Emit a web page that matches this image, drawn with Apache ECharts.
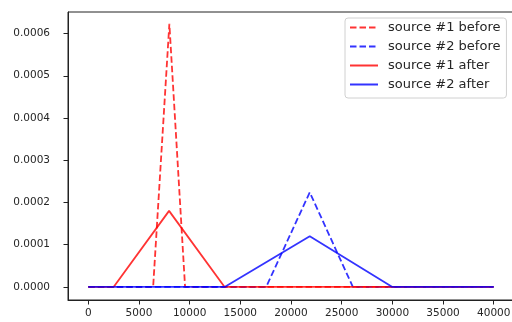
<!DOCTYPE html>
<html>
<head>
<meta charset="utf-8">
<script src="https://cdn.jsdelivr.net/npm/echarts@6/dist/echarts.min.js"></script>
<style>
  html, body { margin: 0; padding: 0; background: #fff; }
  #chart { width: 512px; height: 322px; }
</style>
</head>
<body>
<div id="chart"></div>
<script>
// triangle outlines: x positions and densities
const src1BeforeX = [0, 6400, 8000, 9550, 40000];
const src1BeforeY = [0, 0, 0.000623, 0, 0];
const src2BeforeX = [0, 17550, 21850, 26100, 40000];
const src2BeforeY = [0, 0, 0.000224, 0, 0];
const src1AfterX = [0, 2500, 7970, 13450, 40000];
const src1AfterY = [0, 0, 0.00018, 0, 0];
const src2AfterX = [0, 13450, 21850, 30000, 40000];
const src2AfterY = [0, 0, 0.00012, 0, 0];

const xTicks = [0, 5000, 10000, 15000, 20000, 25000, 30000, 35000, 40000];
const yTicks = [0, 0.0001, 0.0002, 0.0003, 0.0004, 0.0005, 0.0006];

const RED = "rgba(255,0,0,0.8)";
const BLUE = "rgba(0,0,255,0.8)";

function pairs(xs, ys) {
  return xs.map((x, i) => [x, ys[i]]);
}

function line(name, xs, ys, color, dashed) {
  return {
    name: name,
    type: "line",
    symbol: "none",
    silent: true,
    animation: false,
    data: pairs(xs, ys),
    lineStyle: {
      color: color,
      width: 1.8,
      type: dashed ? [6.5, 3] : "solid",
    },
    itemStyle: { color: color },
  };
}

const chart = echarts.init(document.getElementById("chart"));
const font = { fontFamily: "DejaVu Sans", fontSize: 10.5, color: "#262626" };
const spine = { color: "#222", width: 1 };

chart.setOption({
  animation: false,
  grid: {
    left: 68,
    right: -2,
    top: 12,
    bottom: 22,
    outerBoundsMode: "none",
    show: true,
    borderColor: "#222",
    borderWidth: 1,
    backgroundColor: "transparent",
  },
  legend: {
    orient: "vertical",
    left: 345,
    top: 18,
    padding: [3, 6, 7, 4],
    itemWidth: 28,
    itemHeight: 14,
    itemGap: 6,
    itemStyle: { opacity: 0 },
    backgroundColor: "#fff",
    borderColor: "#d0d0d0",
    borderWidth: 1,
    borderRadius: 3,
    textStyle: {
      fontFamily: "DejaVu Sans",
      fontSize: 13,
      color: "#262626",
      padding: [0, 0, 0, 5],
    },
    data: ["source #1 before", "source #2 before", "source #1 after", "source #2 after"],
  },
  xAxis: {
    type: "value",
    min: -2000,
    max: 42000,
    splitLine: { show: false },
    axisLine: { show: true, onZero: false, lineStyle: spine },
    axisTick: {
      show: true,
      length: 4.5,
      customValues: xTicks,
      lineStyle: spine,
    },
    axisLabel: {
      ...font,
      margin: 8,
      customValues: xTicks,
      formatter: (v) => String(v),
    },
  },
  yAxis: {
    type: "value",
    min: -0.000031,
    max: 0.000651,
    splitLine: { show: false },
    axisLine: { show: true, onZero: false, lineStyle: spine },
    axisTick: {
      show: true,
      length: 4.5,
      customValues: yTicks,
      lineStyle: spine,
    },
    axisLabel: {
      ...font,
      margin: 18,
      customValues: yTicks,
      formatter: (v) => v.toFixed(4),
    },
  },
  series: [
    line("source #1 before", src1BeforeX, src1BeforeY, RED, true),
    line("source #2 before", src2BeforeX, src2BeforeY, BLUE, true),
    line("source #1 after", src1AfterX, src1AfterY, RED, false),
    line("source #2 after", src2AfterX, src2AfterY, BLUE, false),
  ],
});
</script>
</body>
</html>
